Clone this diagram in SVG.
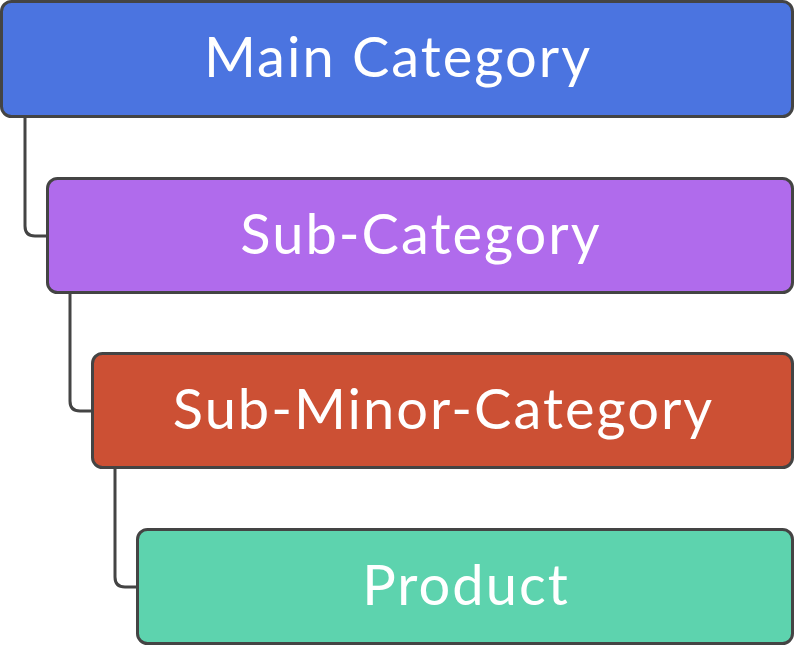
<svg xmlns="http://www.w3.org/2000/svg" width="795" height="647" viewBox="0 0 795 647">
<style>
.box{stroke:#444444;stroke-width:3}
.lbl{fill:#ffffff;font-family:Lato,"Open Sans",sans-serif;font-size:56px;letter-spacing:2px;text-anchor:middle;dominant-baseline:central}
.conn{fill:none;stroke:#444444;stroke-width:3}
</style>
<rect width="795" height="647" fill="#ffffff"/>
<g id="connectors">
<path class="conn" d="M25 117 V226 Q25 236 35 236 H47"/>
<path class="conn" d="M70 293 V401 Q70 411 80 411 H92"/>
<path class="conn" d="M115 468 V577 Q115 587 125 587 H137"/>
</g>
<g id="main-category">
<rect class="box" x="1.5" y="1.5" width="791" height="115" rx="10" fill="#4B74E0"/>
<text class="lbl" x="398" y="55">Main Category</text>
</g>
<g id="sub-category">
<rect class="box" x="47.5" y="178.5" width="745" height="114" rx="10" fill="#B06BEC"/>
<text class="lbl" x="421" y="232">Sub-Category</text>
</g>
<g id="sub-minor-category">
<rect class="box" x="92.5" y="353.5" width="700" height="114" rx="10" fill="#CC5034"/>
<text class="lbl" x="443.5" y="407">Sub-Minor-Category</text>
</g>
<g id="product">
<rect class="box" x="137.5" y="529.5" width="655" height="114" rx="10" fill="#5DD3AE"/>
<text class="lbl" x="466" y="583">Product</text>
</g>
</svg>
